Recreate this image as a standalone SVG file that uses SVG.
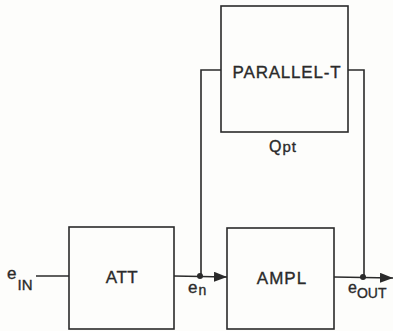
<svg xmlns="http://www.w3.org/2000/svg" width="393" height="331" viewBox="0 0 393 331">
<style>
.box{fill:none;stroke:#2a2a2a;stroke-width:1.6}
.w{fill:none;stroke:#2a2a2a;stroke-width:1.6}
.t{font-family:"Liberation Sans",Arial,sans-serif;fill:#2a2a2a;stroke:#2a2a2a;stroke-width:0.35}
.lbl{font-size:17px}
</style>
<defs>
<marker id="ah" markerWidth="14" markerHeight="10" refX="13" refY="5" orient="auto" markerUnits="userSpaceOnUse">
<path d="M0,0 L13,5 L0,10 Z" fill="#2a2a2a"/>
</marker>
</defs>
<rect width="393" height="331" fill="#fdfdfb"/>
<g id="connectors">
<line class="w" x1="36" y1="276" x2="69" y2="276"/>
<line class="w" x1="174" y1="276" x2="227" y2="277" marker-end="url(#ah)"/>
<polyline class="w" points="201,276 201,70 221,70"/>
<polyline class="w" points="348,70 364,70 364,277"/>
<line class="w" x1="334" y1="277" x2="393" y2="278" marker-end="url(#ah)"/>
<circle cx="200" cy="276" r="3" fill="#2a2a2a"/>
<circle cx="363" cy="277" r="3" fill="#2a2a2a"/>
</g>
<g id="att">
<rect class="box" x="69" y="227" width="105" height="102"/>
<text class="t lbl" x="122" y="283" text-anchor="middle" letter-spacing="0.5">ATT</text>
</g>
<g id="ampl">
<rect class="box" x="227" y="228" width="107" height="101"/>
<text class="t lbl" x="282" y="284" text-anchor="middle" letter-spacing="1">AMPL</text>
</g>
<g id="parallel-t">
<rect class="box" x="221" y="6" width="127" height="126"/>
<text class="t lbl" x="287" y="78" text-anchor="middle" letter-spacing="0.8">PARALLEL-T</text>
<text class="t" x="269" y="152" font-size="16">Q<tspan font-size="15" dx="1" letter-spacing="1">pt</tspan></text>
</g>
<g id="labels">
<text class="t" x="7" y="279" font-size="17">e<tspan font-size="15" dy="11" dx="1">IN</tspan></text>
<text class="t" x="188" y="293" font-size="17">e<tspan font-size="14" dy="2" dx="1">n</tspan></text>
<text class="t" x="348" y="293" font-size="16">e<tspan font-size="14" dy="5">OUT</tspan></text>
</g>
</svg>
